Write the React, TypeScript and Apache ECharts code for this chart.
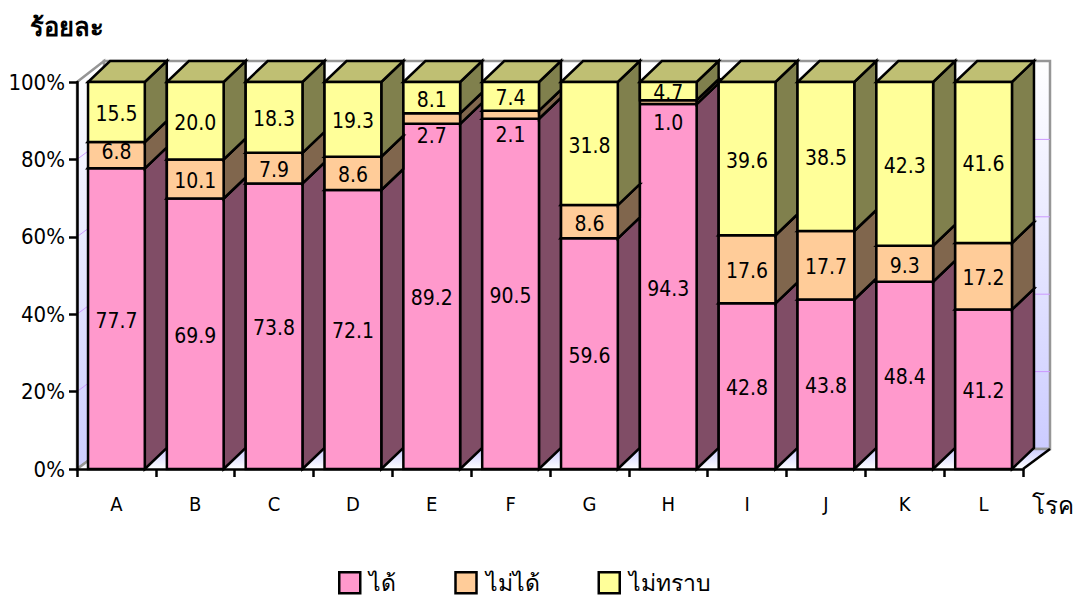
import React, { useEffect, useRef } from "react";
import * as echarts from "echarts";

const categories = ["A", "B", "C", "D", "E", "F", "G", "H", "I", "J", "K", "L"];
const can = [77.7, 69.9, 73.8, 72.1, 89.2, 90.5, 59.6, 94.3, 42.8, 43.8, 48.4, 41.2];
const cannot = [6.8, 10.1, 7.9, 8.6, 2.7, 2.1, 8.6, 1.0, 17.6, 17.7, 9.3, 17.2];
const unknown = [15.5, 20.0, 18.3, 19.3, 8.1, 7.4, 31.8, 4.7, 39.6, 38.5, 42.3, 41.6];
const yTicks = [0, 20, 40, 60, 80, 100];

const FONT = '"DejaVu Sans Condensed", "DejaVu Sans", sans-serif';
const BAR_DX = 22;
const BAR_DY = 21;
const WALL_DX = 27;
const WALL_DY = 20;
const EDGE = { stroke: "#000", lineWidth: 2.5, lineJoin: "miter" as const };

// manual label displacement of the thin segments, as in the reference
const cannotNudge: Record<string, number> = { A: -5, E: 15, F: 18, H: 19 };

function stackSeries(
  name: string,
  values: number[],
  base: number[],
  front: string,
  side: string,
  top: string,
  nudge: Record<string, number>
) {
  return {
    type: "custom",
    name,
    clip: false,
    z: 3,
    itemStyle: { color: front },
    data: values.map((v, i) => [i, base[i], base[i] + v, v]),
    renderItem: (_p: any, api: any) => {
      const i = api.value(0);
      const lo = api.coord([i, api.value(1)]);
      const hi = api.coord([i, api.value(2)]);
      const w = api.size([1, 0])[0] * 0.72;
      const l = lo[0] - w / 2;
      const r = lo[0] + w / 2;
      const yb = lo[1];
      const yt = hi[1];
      const dy = nudge[categories[i]] || 0;
      return {
        type: "group",
        children: [
          {
            type: "polygon",
            shape: { points: [[r, yb], [r + BAR_DX, yb - BAR_DY], [r + BAR_DX, yt - BAR_DY], [r, yt]] },
            style: { fill: side, ...EDGE },
          },
          {
            type: "polygon",
            shape: { points: [[l, yt], [r, yt], [r + BAR_DX, yt - BAR_DY], [l + BAR_DX, yt - BAR_DY]] },
            style: { fill: top, ...EDGE },
          },
          {
            type: "rect",
            shape: { x: l, y: yt, width: w, height: yb - yt },
            style: { fill: front, ...EDGE },
          },
          {
            type: "text",
            z2: 10,
            style: {
              x: lo[0],
              y: (yb + yt) / 2 + 2 + dy,
              text: api.value(3).toFixed(1),
              fill: "#000",
              font: `21px ${FONT}`,
              textAlign: "center",
              textVerticalAlign: "middle",
            },
          },
        ],
      };
    },
  };
}

const sum = (a: number[], b: number[]) => a.map((v, i) => v + b[i]);
const zeros = can.map(() => 0);

const backdrop = {
  type: "custom",
  name: "backdrop",
  silent: true,
  clip: false,
  z: 1,
  data: [[0]],
  renderItem: (_p: any, api: any) => {
    const band = api.size([1, 0])[0];
    const [cx0, y0] = api.coord([0, 0]);
    const [cx1] = api.coord([categories.length - 1, 0]);
    const x0 = cx0 - band / 2;
    const x1 = cx1 + band / 2;
    const yTop = api.coord([0, 100])[1];
    const wallGrad = new echarts.graphic.LinearGradient(0, 0, 0, 1, [
      { offset: 0, color: "#ffffff" },
      { offset: 1, color: "#ccccff" },
    ]);
    const floorGrad = new echarts.graphic.LinearGradient(0, 0, 0, 1, [
      { offset: 0, color: "#ccccff" },
      { offset: 1, color: "#ffffff" },
    ]);
    const grid = "#cc99ff";
    const gridLines: any[] = [];
    yTicks.slice(1, -1).forEach((t) => {
      const y = api.coord([0, t])[1];
      gridLines.push({
        type: "polyline",
        shape: { points: [[x0, y], [x0 + WALL_DX, y - WALL_DY], [x1 + WALL_DX, y - WALL_DY]] },
        style: { stroke: grid, lineWidth: 1, fill: "none" },
      });
    });
    const gray = { stroke: "#969696", lineWidth: 2.5 };
    return {
      type: "group",
      children: [
        {
          type: "polygon",
          shape: { points: [[x0 + WALL_DX, yTop - WALL_DY - 1], [x1 + WALL_DX, yTop - WALL_DY - 1], [x1 + WALL_DX, y0 - WALL_DY], [x0 + WALL_DX, y0 - WALL_DY]] },
          style: { fill: wallGrad, ...gray },
        },
        {
          type: "polygon",
          shape: { points: [[x0, yTop], [x0 + WALL_DX, yTop - WALL_DY - 1], [x0 + WALL_DX, y0 - WALL_DY], [x0, y0]] },
          style: { fill: wallGrad, ...gray },
        },
        {
          type: "polygon",
          shape: { points: [[x0, y0], [x0 + WALL_DX, y0 - WALL_DY], [x1 + WALL_DX, y0 - WALL_DY], [x1, y0]] },
          style: { fill: floorGrad, stroke: "none" },
        },
        ...gridLines,
        { type: "line", shape: { x1: x0, y1: y0, x2: x0 + WALL_DX, y2: y0 - WALL_DY }, style: gray },
        { type: "line", shape: { x1: x0 + WALL_DX, y1: y0 - WALL_DY, x2: x1 + WALL_DX, y2: y0 - WALL_DY }, style: gray },
        { type: "line", shape: { x1: x1, y1: y0, x2: x1 + WALL_DX, y2: y0 - WALL_DY }, style: { stroke: "#000", lineWidth: 2.5 } },
      ],
    };
  },
};

export default function App() {
  const ref = useRef<HTMLDivElement>(null);
  useEffect(() => {
    const chart = echarts.init(ref.current!, undefined, { renderer: "svg" });
    chart.setOption({
      animation: false,
      backgroundColor: "#fff",
      textStyle: { fontFamily: FONT },
      grid: { left: 77, right: 51, top: 82, bottom: 127, containLabel: false, outerBoundsMode: "none" },
      xAxis: {
        type: "category",
        data: categories,
        z: 6,
        name: "โรค",
        nameLocation: "end",
        nameGap: 9,
        nameTextStyle: { fontSize: 24, color: "#000", fontFamily: FONT, verticalAlign: "top", padding: [25, 0, 0, 0] },
        axisLine: { lineStyle: { color: "#000", width: 2.5 } },
        axisTick: { show: true, length: 8, lineStyle: { color: "#000", width: 2.5 } },
        axisLabel: { color: "#000", fontSize: 20, margin: 25, fontFamily: FONT },
      },
      yAxis: {
        type: "value",
        min: 0,
        max: 100,
        interval: 20,
        z: 6,
        axisLine: { show: true, lineStyle: { color: "#000", width: 2.5 } },
        axisTick: { show: true, length: 8, lineStyle: { color: "#000", width: 2.5 } },
        splitLine: { show: false },
        axisLabel: { color: "#000", fontSize: 22, margin: 12, formatter: "{value}%", fontFamily: FONT },
      },
      legend: {
        left: 338,
        top: 571,
        padding: 0,
        itemWidth: 21,
        itemHeight: 21,
        itemGap: 58,
        textStyle: { fontSize: 23, color: "#000", padding: [0, 0, 0, 4], fontFamily: FONT },
        data: [
          { name: "ได้", icon: "rect", itemStyle: { color: "#ff99cc", borderColor: "#000", borderWidth: 2.5 } },
          { name: "ไม่ได้", icon: "rect", itemStyle: { color: "#ffcc99", borderColor: "#000", borderWidth: 2.5 } },
          { name: "ไม่ทราบ", icon: "rect", itemStyle: { color: "#ffff99", borderColor: "#000", borderWidth: 2.5 } },
        ],
      },
      graphic: [
        {
          type: "text",
          left: 30,
          top: 14,
          style: { text: "ร้อยละ", fill: "#000", font: `bold 25.5px ${FONT}` },
        },
      ],
      series: [
        backdrop,
        stackSeries("ได้", can, zeros, "#ff99cc", "#804d66", "#bf73a0", {}),
        stackSeries("ไม่ได้", cannot, can, "#ffcc99", "#80664d", "#bf9973", cannotNudge),
        stackSeries("ไม่ทราบ", unknown, sum(can, cannot), "#ffff99", "#80804d", "#bfbf73", {}),
      ],
    });
    return () => chart.dispose();
  }, []);
  return <div ref={ref} style={{ position: "absolute", left: 0, top: 0, width: 1074, height: 596 }} />;
}
